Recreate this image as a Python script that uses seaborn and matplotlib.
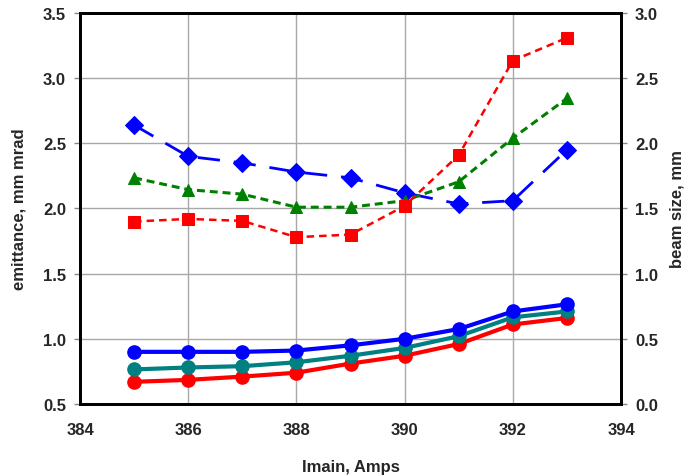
import matplotlib
matplotlib.use("Agg")
import matplotlib.pyplot as plt
import seaborn as sns
import numpy as np

# Magnet current scan
imain = [385, 386, 387, 388, 389, 390, 391, 392, 393]

# Emittance (left axis), mm mrad
emit_blue = [0.90, 0.90, 0.90, 0.91, 0.95, 1.00, 1.075, 1.21, 1.265]
emit_teal = [0.765, 0.78, 0.79, 0.82, 0.87, 0.93, 1.02, 1.165, 1.21]
emit_red = [0.67, 0.685, 0.71, 0.74, 0.81, 0.87, 0.96, 1.11, 1.16]

# Beam size (right axis), mm
size_blue = [2.14, 1.90, 1.85, 1.78, 1.735, 1.62, 1.535, 1.56, 1.95]
size_green = [1.735, 1.645, 1.61, 1.51, 1.51, 1.56, 1.705, 2.04, 2.345]
size_red = [1.40, 1.42, 1.405, 1.28, 1.30, 1.52, 1.91, 2.635, 2.81]

x_ticks = [384, 386, 388, 390, 392, 394]
left_ticks = [0.5, 1.0, 1.5, 2.0, 2.5, 3.0, 3.5]
right_ticks = [0.0, 0.5, 1.0, 1.5, 2.0, 2.5, 3.0]

sns.set_style("white")
plt.rcParams["font.family"] = ["Liberation Sans", "DejaVu Sans"]
plt.rcParams["font.weight"] = "bold"

fig = plt.figure(figsize=(6.85, 4.77), dpi=100)
ax = fig.add_axes([0.1168, 0.151, 0.7898, 0.8196])
ax2 = ax.twinx()

# Solid emittance curves with round markers
for vals, col in [(emit_red, "#ff0000"), (emit_teal, "#008080"), (emit_blue, "#0000ff")]:
    sns.lineplot(x=imain, y=vals, ax=ax, color=col, lw=3.0, marker="o",
                 markersize=9.5, markeredgecolor=col, markeredgewidth=1, legend=False)

# Dashed beam-size curves
sns.lineplot(x=imain, y=size_blue, ax=ax2, color="#0000ff", lw=2.0,
             linestyle=(0, (8, 5)), marker="D", markersize=9,
             markeredgecolor="#0000ff", legend=False)
sns.lineplot(x=imain, y=size_green, ax=ax2, color="#008000", lw=2.2,
             linestyle=(0, (2.6, 1.6)), marker="^", markersize=9,
             markeredgecolor="#008000", legend=False)
sns.lineplot(x=imain, y=size_red, ax=ax2, color="#ff0000", lw=1.8,
             linestyle=(0, (3, 2)), marker="s", markersize=8.5,
             markeredgecolor="#ff0000", legend=False)

ax.set_xlim(384, 394)
ax.set_ylim(0.5, 3.5)
ax2.set_ylim(0.0, 3.0)
ax.set_xticks(x_ticks)
ax.set_yticks(left_ticks)
ax2.set_yticks(right_ticks)
ax.set_xticklabels([str(t) for t in x_ticks])
ax.set_yticklabels([f"{t:.1f}" for t in left_ticks])
ax2.set_yticklabels([f"{t:.1f}" for t in right_ticks])

ax.grid(True, color="#a8a8a8", lw=1.0)
ax.set_axisbelow(True)
for a in (ax, ax2):
    for sp in a.spines.values():
        sp.set_color("black")
        sp.set_linewidth(2.0)
    a.tick_params(axis="both", direction="out", length=4, width=1, color="#888888",
                  labelsize=12, pad=6)
ax.tick_params(axis="x", pad=9)

ax.set_xlabel("Imain, Amps", fontsize=12, fontweight="bold", labelpad=16)
ax.set_ylabel("emittance, mm mrad", fontsize=12, fontweight="bold", labelpad=12)
ax2.set_ylabel("beam size, mm", fontsize=12, fontweight="bold", labelpad=8)

fig.savefig("out.png", dpi=100)
